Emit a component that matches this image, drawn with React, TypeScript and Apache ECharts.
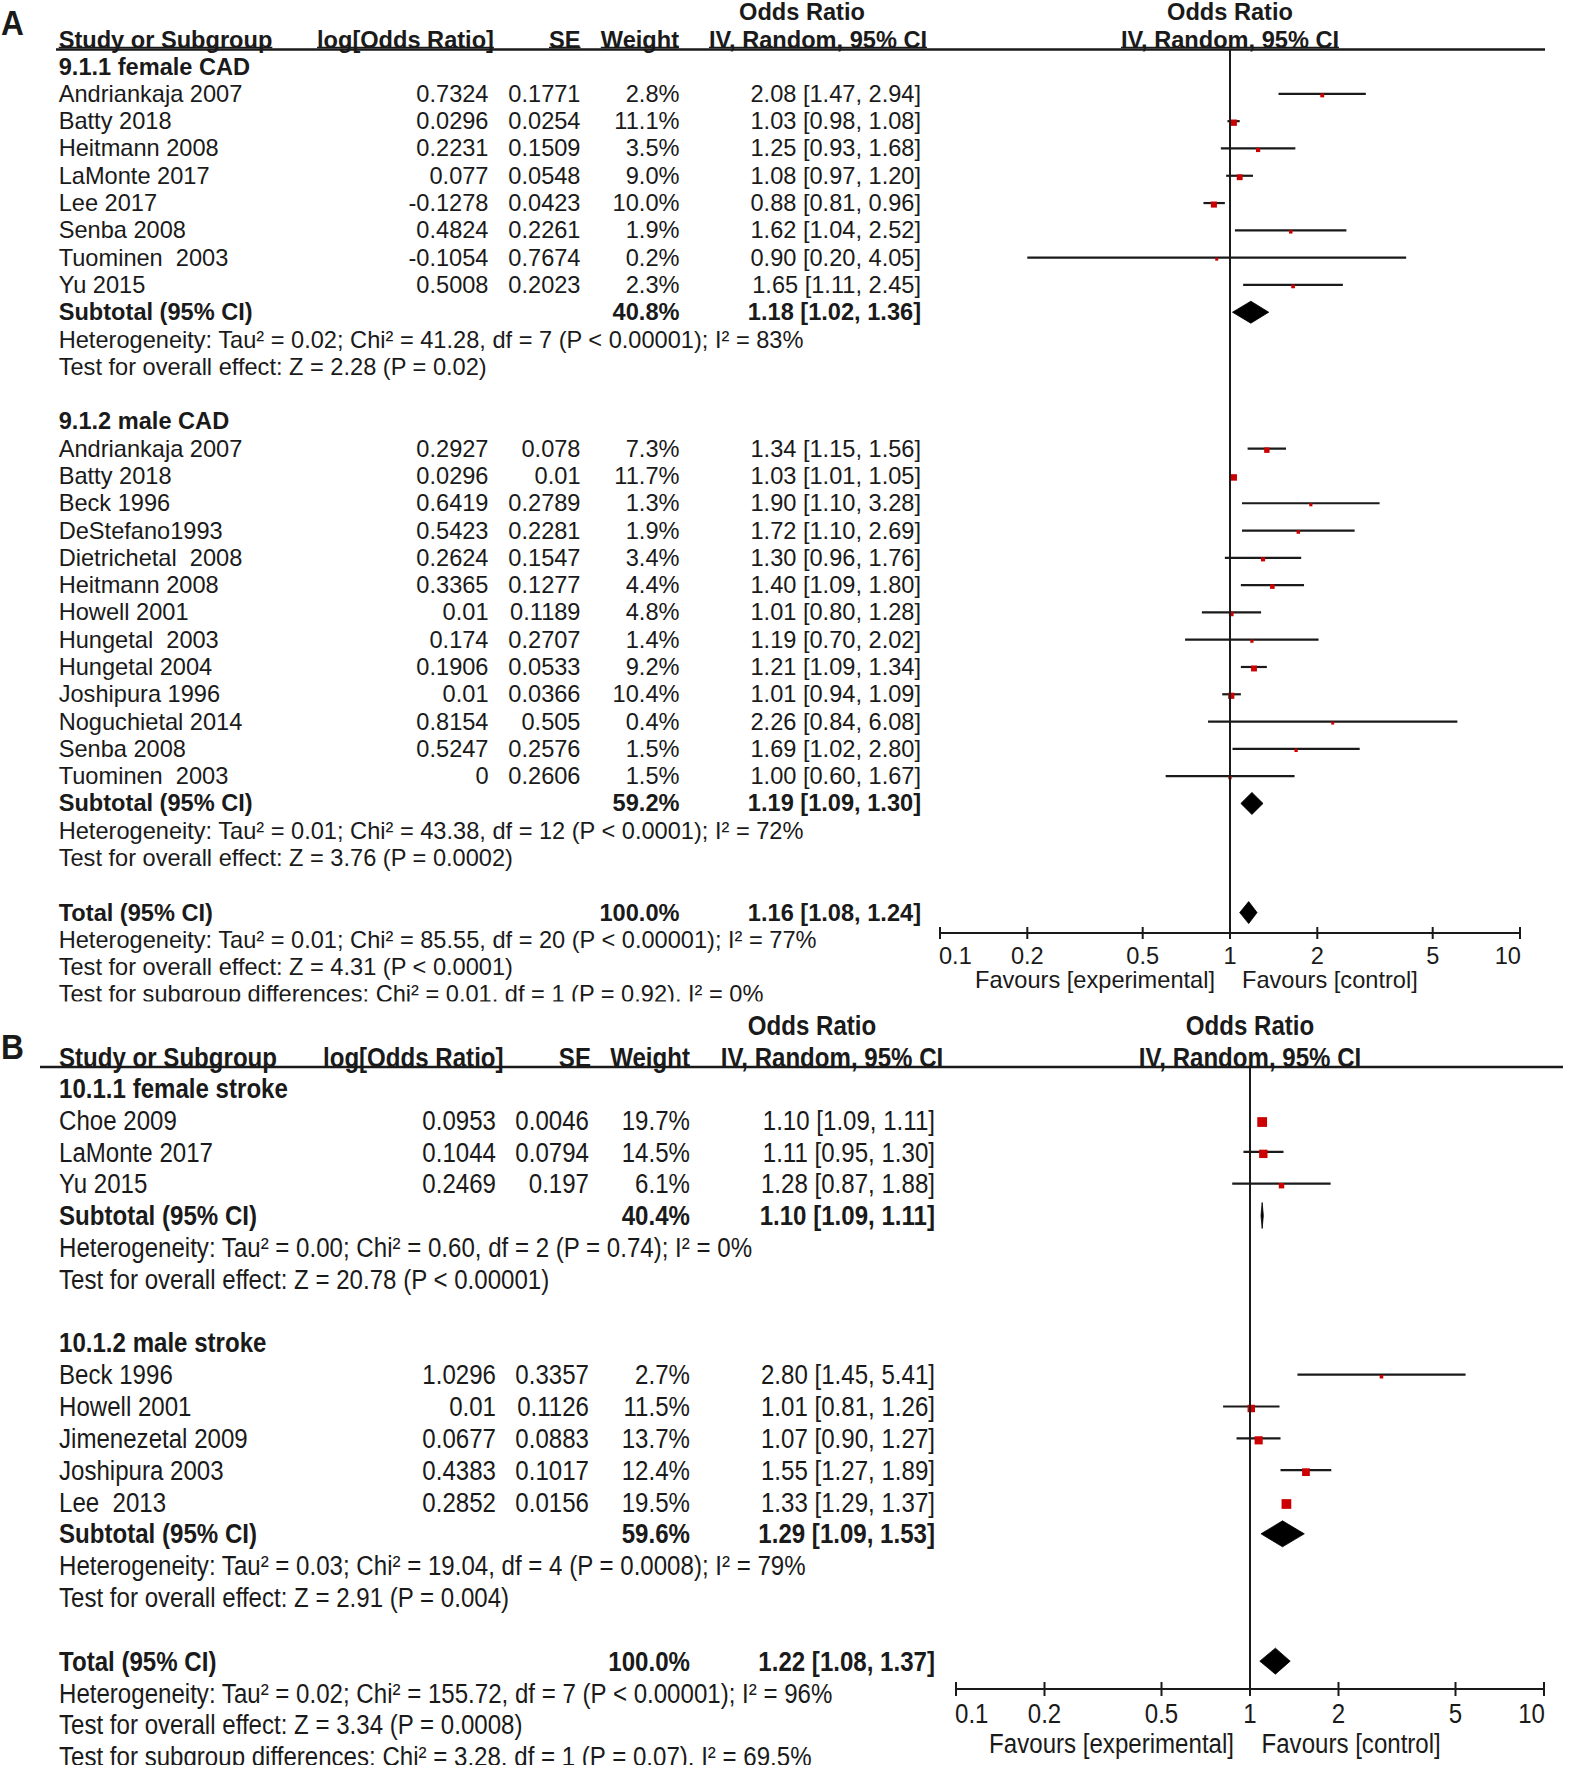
import React, { useEffect, useRef } from "react";
import * as echarts from "echarts";

const W = 1569;
const H = 1772;
const FONT = '"Liberation Sans", Arial, Helvetica, sans-serif';
const INK = "#1a1a1a";
const RED = "#cc0000";

// ---------------- Panel A data (CAD) ----------------
const A1_TITLE = "9.1.1 female CAD";
const A1_STUDY = ["Andriankaja 2007", "Batty 2018", "Heitmann 2008", "LaMonte 2017", "Lee 2017", "Senba 2008", "Tuominen  2003", "Yu 2015"];
const A1_LOGOR = [0.7324, 0.0296, 0.2231, 0.077, -0.1278, 0.4824, -0.1054, 0.5008];
const A1_SE = [0.1771, 0.0254, 0.1509, 0.0548, 0.0423, 0.2261, 0.7674, 0.2023];
const A1_WEIGHT = [2.8, 11.1, 3.5, 9.0, 10.0, 1.9, 0.2, 2.3];
const A1_OR = [2.08, 1.03, 1.25, 1.08, 0.88, 1.62, 0.9, 1.65];
const A1_LO = [1.47, 0.98, 0.93, 0.97, 0.81, 1.04, 0.2, 1.11];
const A1_HI = [2.94, 1.08, 1.68, 1.2, 0.96, 2.52, 4.05, 2.45];
const A1_SUB = [40.8, 1.18, 1.02, 1.36];
const A1_STATS = [
  "Heterogeneity: Tau² = 0.02; Chi² = 41.28, df = 7 (P < 0.00001); I² = 83%",
  "Test for overall effect: Z = 2.28 (P = 0.02)",
];

const A2_TITLE = "9.1.2 male CAD";
const A2_STUDY = ["Andriankaja 2007", "Batty 2018", "Beck 1996", "DeStefano1993", "Dietrichetal  2008", "Heitmann 2008", "Howell 2001", "Hungetal  2003", "Hungetal 2004", "Joshipura 1996", "Noguchietal 2014", "Senba 2008", "Tuominen  2003"];
const A2_LOGOR = [0.2927, 0.0296, 0.6419, 0.5423, 0.2624, 0.3365, 0.01, 0.174, 0.1906, 0.01, 0.8154, 0.5247, 0];
const A2_SE = [0.078, 0.01, 0.2789, 0.2281, 0.1547, 0.1277, 0.1189, 0.2707, 0.0533, 0.0366, 0.505, 0.2576, 0.2606];
const A2_WEIGHT = [7.3, 11.7, 1.3, 1.9, 3.4, 4.4, 4.8, 1.4, 9.2, 10.4, 0.4, 1.5, 1.5];
const A2_OR = [1.34, 1.03, 1.9, 1.72, 1.3, 1.4, 1.01, 1.19, 1.21, 1.01, 2.26, 1.69, 1.0];
const A2_LO = [1.15, 1.01, 1.1, 1.1, 0.96, 1.09, 0.8, 0.7, 1.09, 0.94, 0.84, 1.02, 0.6];
const A2_HI = [1.56, 1.05, 3.28, 2.69, 1.76, 1.8, 1.28, 2.02, 1.34, 1.09, 6.08, 2.8, 1.67];
const A2_SUB = [59.2, 1.19, 1.09, 1.3];
const A2_STATS = [
  "Heterogeneity: Tau² = 0.01; Chi² = 43.38, df = 12 (P < 0.0001); I² = 72%",
  "Test for overall effect: Z = 3.76 (P = 0.0002)",
];

const A_TOTAL = [100.0, 1.16, 1.08, 1.24];
const A_TOTAL_STATS = [
  "Heterogeneity: Tau² = 0.01; Chi² = 85.55, df = 20 (P < 0.00001); I² = 77%",
  "Test for overall effect: Z = 4.31 (P < 0.0001)",
  "Test for subgroup differences: Chi² = 0.01, df = 1 (P = 0.92), I² = 0%",
];

// ---------------- Panel B data (stroke) ----------------
const B1_TITLE = "10.1.1 female stroke";
const B1_STUDY = ["Choe 2009", "LaMonte 2017", "Yu 2015"];
const B1_LOGOR = [0.0953, 0.1044, 0.2469];
const B1_SE = [0.0046, 0.0794, 0.197];
const B1_WEIGHT = [19.7, 14.5, 6.1];
const B1_OR = [1.1, 1.11, 1.28];
const B1_LO = [1.09, 0.95, 0.87];
const B1_HI = [1.11, 1.3, 1.88];
const B1_SUB = [40.4, 1.1, 1.09, 1.11];
const B1_STATS = [
  "Heterogeneity: Tau² = 0.00; Chi² = 0.60, df = 2 (P = 0.74); I² = 0%",
  "Test for overall effect: Z = 20.78 (P < 0.00001)",
];

const B2_TITLE = "10.1.2 male stroke";
const B2_STUDY = ["Beck 1996", "Howell 2001", "Jimenezetal 2009", "Joshipura 2003", "Lee  2013"];
const B2_LOGOR = [1.0296, 0.01, 0.0677, 0.4383, 0.2852];
const B2_SE = [0.3357, 0.1126, 0.0883, 0.1017, 0.0156];
const B2_WEIGHT = [2.7, 11.5, 13.7, 12.4, 19.5];
const B2_OR = [2.8, 1.01, 1.07, 1.55, 1.33];
const B2_LO = [1.45, 0.81, 0.9, 1.27, 1.29];
const B2_HI = [5.41, 1.26, 1.27, 1.89, 1.37];
const B2_SUB = [59.6, 1.29, 1.09, 1.53];
const B2_STATS = [
  "Heterogeneity: Tau² = 0.03; Chi² = 19.04, df = 4 (P = 0.0008); I² = 79%",
  "Test for overall effect: Z = 2.91 (P = 0.004)",
];

const B_TOTAL = [100.0, 1.22, 1.08, 1.37];
const B_TOTAL_STATS = [
  "Heterogeneity: Tau² = 0.02; Chi² = 155.72, df = 7 (P < 0.00001); I² = 96%",
  "Test for overall effect: Z = 3.34 (P = 0.0008)",
  "Test for subgroup differences: Chi² = 3.28, df = 1 (P = 0.07), I² = 69.5%",
];

// ---------------- Shared labels ----------------
const TICK_VALUES = [0.1, 0.2, 0.5, 1, 2, 5, 10];
const TICK_LABELS = ["0.1", "0.2", "0.5", "1", "2", "5", "10"];
const FAV_LEFT = "Favours [experimental]";
const FAV_RIGHT = "Favours [control]";
const HDR_STUDY = "Study or Subgroup";
const HDR_LOG = "log[Odds Ratio]";
const HDR_SE = "SE";
const HDR_WEIGHT = "Weight";
const HDR_OR = "Odds Ratio";
const HDR_METHOD = "IV, Random, 95% CI";
const SUBTOTAL_LABEL = "Subtotal (95% CI)";
const TOTAL_LABEL = "Total (95% CI)";

// ---------------- Layout ----------------
const LAYOUT_A = {
  y0: 66.6, pitch: 27.29, font: 23.6, sx: 1,
  colName: 58.7, colLog: 488.5, colSE: 580.5, colW: 679.5, colCI: 921,
  hdr1Y: 12.4, hdr2Y: 39.5, ulOff: 8, ruleY: 49.5, ruleX1: 56, ruleX2: 1545,
  hdrLog: 317, hdrSE: 580.5, hdrW: 679, hdrCI: 818, hdrOR: 802,
  letter: "A", letterX: 1, letterY: 22.5,
  textTop: 0, textBottom: 1010,
  fLeft: 940, fRight: 1520, axisY: 933, tickLabelY: 956, favY: 980, favGapL: 15, favGapR: 12, tickLen: 6,
  sqK: 1.45, sqB: 1.5, sqMin: 3, sqOff: 1.5, diaH: 22, ciW: 2.2,
  clipTop: 1001.5, clipBottom: 1010,
};

const LAYOUT_B = {
  y0: 1088.2, pitch: 31.83, font: 28, sx: 0.86,
  colName: 59, colLog: 496, colSE: 589, colW: 690, colCI: 935,
  hdr1Y: 1025, hdr2Y: 1057, ulOff: 10, ruleY: 1067, ruleX1: 40, ruleX2: 1563,
  hdrLog: 323, hdrSE: 591, hdrW: 690, hdrCI: 832, hdrOR: 812,
  letter: "B", letterX: 1, letterY: 1046,
  textTop: 1005, textBottom: 1772,
  fLeft: 956, fRight: 1544, axisY: 1689, tickLabelY: 1713, favY: 1743, favGapL: 16, favGapR: 11.5, tickLen: 7,
  sqK: 2.2, sqB: 0, sqMin: 3, sqOff: 2, diaH: 26, ciW: 2.2,
  clipTop: 1765, clipBottom: 1772,
};

type Lay = typeof LAYOUT_A;
type TextItem = { x: number; row: number; text: string; align: string; bold?: boolean; underline?: boolean; size?: number; sx?: number };

let measureCtx: any = null;
function measure(text: string, size: number, bold: boolean) {
  if (!measureCtx) measureCtx = document.createElement("canvas").getContext("2d");
  measureCtx.font = `${bold ? "bold " : ""}${size}px ${FONT}`;
  return measureCtx.measureText(text).width;
}

function fmtCI(or: number, lo: number, hi: number) {
  return `${or.toFixed(2)} [${lo.toFixed(2)}, ${hi.toFixed(2)}]`;
}

function buildPanel(groups: any[], total: number[], totalStats: string[], L: Lay) {
  const rowOf = (px: number) => (px - L.y0) / L.pitch;
  const texts: TextItem[] = [];
  const studies: number[][] = [];
  const diamonds: number[][] = [];

  // headers
  texts.push({ x: L.letterX, row: rowOf(L.letterY), text: L.letter, align: "left", bold: true, size: 36, sx: 0.88 });
  texts.push({ x: L.hdrOR, row: rowOf(L.hdr1Y), text: HDR_OR, align: "center", bold: true });
  texts.push({ x: (L.fLeft + L.fRight) / 2, row: rowOf(L.hdr1Y), text: HDR_OR, align: "center", bold: true });
  const r2 = rowOf(L.hdr2Y);
  texts.push({ x: L.colName, row: r2, text: HDR_STUDY, align: "left", bold: true, underline: true });
  texts.push({ x: L.hdrLog, row: r2, text: HDR_LOG, align: "left", bold: true, underline: true });
  texts.push({ x: L.hdrSE, row: r2, text: HDR_SE, align: "right", bold: true, underline: true });
  texts.push({ x: L.hdrW, row: r2, text: HDR_WEIGHT, align: "right", bold: true, underline: true });
  texts.push({ x: L.hdrCI, row: r2, text: HDR_METHOD, align: "center", bold: true, underline: true });
  texts.push({ x: (L.fLeft + L.fRight) / 2, row: r2, text: HDR_METHOD, align: "center", bold: true, underline: true });

  let r = 0;
  groups.forEach((g) => {
    texts.push({ x: L.colName, row: r, text: g.title, align: "left", bold: true });
    r++;
    g.study.forEach((name: string, i: number) => {
      texts.push({ x: L.colName, row: r, text: name, align: "left" });
      texts.push({ x: L.colLog, row: r, text: String(g.logor[i]), align: "right" });
      texts.push({ x: L.colSE, row: r, text: String(g.se[i]), align: "right" });
      texts.push({ x: L.colW, row: r, text: g.weight[i].toFixed(1) + "%", align: "right" });
      texts.push({ x: L.colCI, row: r, text: fmtCI(g.or[i], g.lo[i], g.hi[i]), align: "right" });
      studies.push([g.or[i], r, g.lo[i], g.hi[i], g.weight[i]]);
      r++;
    });
    texts.push({ x: L.colName, row: r, text: SUBTOTAL_LABEL, align: "left", bold: true });
    texts.push({ x: L.colW, row: r, text: g.sub[0].toFixed(1) + "%", align: "right", bold: true });
    texts.push({ x: L.colCI, row: r, text: fmtCI(g.sub[1], g.sub[2], g.sub[3]), align: "right", bold: true });
    diamonds.push([g.sub[1], r, g.sub[2], g.sub[3]]);
    r++;
    g.stats.forEach((s: string) => {
      texts.push({ x: L.colName, row: r, text: s, align: "left" });
      r++;
    });
    r++;
  });
  texts.push({ x: L.colName, row: r, text: TOTAL_LABEL, align: "left", bold: true });
  texts.push({ x: L.colW, row: r, text: total[0].toFixed(1) + "%", align: "right", bold: true });
  texts.push({ x: L.colCI, row: r, text: fmtCI(total[1], total[2], total[3]), align: "right", bold: true });
  diamonds.push([total[1], r, total[2], total[3]]);
  r++;
  totalStats.forEach((s) => {
    texts.push({ x: L.colName, row: r, text: s, align: "left" });
    r++;
  });
  return { texts, studies, diamonds, rowOf };
}

function panelParts(groups: any[], total: number[], totalStats: string[], L: Lay, base: number) {
  const { texts, studies, diamonds, rowOf } = buildPanel(groups, total, totalStats, L);
  const tIdx = base;
  const fIdx = base + 1;
  const grids = [
    { left: 0, right: 0, top: L.textTop, bottom: H - L.textBottom, outerBoundsMode: "none", containLabel: false },
    { left: L.fLeft, right: W - L.fRight, top: L.ruleY, bottom: H - L.axisY, outerBoundsMode: "none", containLabel: false },
  ];
  const xAxes = [
    { gridIndex: tIdx, type: "value", min: 0, max: W, show: false },
    {
      gridIndex: fIdx, type: "log", logBase: 10, min: 0.1, max: 10,
      axisLine: { show: true, onZero: false, lineStyle: { color: INK, width: 2 } },
      axisTick: { show: false }, axisLabel: { show: false }, splitLine: { show: false },
    },
  ];
  const yAxes = [
    { gridIndex: tIdx, type: "value", inverse: true, min: rowOf(L.textTop), max: rowOf(L.textBottom), show: false },
    { gridIndex: fIdx, type: "value", inverse: true, min: rowOf(L.ruleY), max: rowOf(L.axisY), show: false },
  ];
  const axisRow = rowOf(L.axisY);
  const tickRow = rowOf(L.tickLabelY);
  const favRow = rowOf(L.favY);
  const textStyle = (t: TextItem) => ({
    text: t.text, x: 0, y: 0, align: t.align, verticalAlign: "middle",
    fontSize: t.size ?? L.font, fontFamily: FONT, fontWeight: t.bold ? "bold" : "normal", fill: INK,
  });

  const series: any[] = [
    {
      type: "custom", name: "text" + base, xAxisIndex: tIdx, yAxisIndex: tIdx, silent: true, clip: false,
      data: texts.map((t) => [t.x, t.row]),
      encode: { x: 0, y: 1 },
      renderItem: (params: any, api: any) => {
        const t = texts[params.dataIndex];
        const p = api.coord([t.x, t.row]);
        const sx = t.sx ?? L.sx;
        const size = t.size ?? L.font;
        const children: any[] = [
          { type: "text", x: p[0], y: p[1], scaleX: sx, scaleY: 1, style: textStyle(t) },
        ];
        if (t.underline) {
          const w = measure(t.text, size, !!t.bold) * sx;
          const x1 = t.align === "left" ? p[0] : t.align === "right" ? p[0] - w : p[0] - w / 2;
          const yy = p[1] + L.ulOff;
          children.push({ type: "line", shape: { x1, y1: yy, x2: x1 + w, y2: yy }, style: { stroke: INK, lineWidth: 1.6 } });
        }
        return { type: "group", children };
      },
    },
    {
      type: "custom", name: "rule" + base, xAxisIndex: tIdx, yAxisIndex: tIdx, silent: true, clip: false,
      data: [[L.ruleX1, rowOf(L.ruleY), L.ruleX2]],
      encode: { x: [0, 2], y: 1 },
      renderItem: (params: any, api: any) => {
        const a = api.coord([api.value(0), api.value(1)]);
        const b = api.coord([api.value(2), api.value(1)]);
        return { type: "line", shape: { x1: a[0], y1: a[1], x2: b[0], y2: b[1] }, style: { stroke: INK, lineWidth: 2.4 } };
      },
    },
    {
      type: "line", name: "null" + base, xAxisIndex: fIdx, yAxisIndex: fIdx, silent: true,
      data: [[1, rowOf(L.ruleY)], [1, axisRow]],
      showSymbol: false, symbol: "none", lineStyle: { color: INK, width: 2 },
    },
    {
      type: "custom", name: "studies" + base, xAxisIndex: fIdx, yAxisIndex: fIdx, silent: true, clip: false,
      data: studies,
      encode: { x: [0, 2, 3], y: 1 },
      renderItem: (params: any, api: any) => {
        const or = api.value(0), row = api.value(1), lo = api.value(2), hi = api.value(3), w = api.value(4);
        const pl = api.coord([lo, row]);
        const ph = api.coord([hi, row]);
        const pc = api.coord([or, row]);
        const s = Math.max(L.sqMin, L.sqB + L.sqK * Math.sqrt(w));
        return {
          type: "group",
          children: [
            { type: "line", shape: { x1: pl[0], y1: pl[1], x2: ph[0], y2: ph[1] }, style: { stroke: INK, lineWidth: L.ciW } },
            { type: "rect", shape: { x: pc[0] - s / 2, y: pc[1] - s / 2 + L.sqOff, width: s, height: s }, style: { fill: RED } },
          ],
        };
      },
    },
    {
      type: "custom", name: "diamonds" + base, xAxisIndex: fIdx, yAxisIndex: fIdx, silent: true, clip: false,
      data: diamonds,
      encode: { x: [0, 2, 3], y: 1 },
      renderItem: (params: any, api: any) => {
        const or = api.value(0), row = api.value(1), lo = api.value(2), hi = api.value(3);
        const pl = api.coord([lo, row]);
        const ph = api.coord([hi, row]);
        const pc = api.coord([or, row]);
        const h = L.diaH / 2;
        return {
          type: "polygon",
          shape: { points: [[pl[0], pc[1]], [pc[0], pc[1] - h], [ph[0], pc[1]], [pc[0], pc[1] + h]] },
          style: { fill: "#000", stroke: "#000", lineWidth: 0.8 },
        };
      },
    },
    {
      type: "custom", name: "ticks" + base, xAxisIndex: fIdx, yAxisIndex: fIdx, silent: true, clip: false,
      data: TICK_VALUES.map((v) => [v, axisRow]),
      encode: { x: 0, y: 1 },
      renderItem: (params: any, api: any) => {
        const i = params.dataIndex;
        const v = api.value(0);
        const p = api.coord([v, axisRow]);
        const q = api.coord([v, tickRow]);
        const align = i === 0 ? "left" : i === TICK_VALUES.length - 1 ? "right" : "center";
        const lx = i === 0 ? q[0] - 1 : i === TICK_VALUES.length - 1 ? q[0] + 1 : q[0];
        return {
          type: "group",
          children: [
            { type: "line", shape: { x1: p[0], y1: p[1] - L.tickLen, x2: p[0], y2: p[1] + L.tickLen }, style: { stroke: INK, lineWidth: 2 } },
            {
              type: "text", x: lx, y: q[1], scaleX: L.sx, scaleY: 1,
              style: { text: TICK_LABELS[i], x: 0, y: 0, align, verticalAlign: "middle", fontSize: L.font, fontFamily: FONT, fill: INK },
            },
          ],
        };
      },
    },
    {
      type: "custom", name: "favours" + base, xAxisIndex: fIdx, yAxisIndex: fIdx, silent: true, clip: false,
      data: [[1, favRow]],
      encode: { x: 0, y: 1 },
      renderItem: (params: any, api: any) => {
        const p = api.coord([api.value(0), api.value(1)]);
        return {
          type: "group",
          children: [
            {
              type: "text", x: p[0] - L.favGapL, y: p[1], scaleX: L.sx, scaleY: 1,
              style: { text: FAV_LEFT, x: 0, y: 0, align: "right", verticalAlign: "middle", fontSize: L.font, fontFamily: FONT, fill: INK },
            },
            {
              type: "text", x: p[0] + L.favGapR, y: p[1], scaleX: L.sx, scaleY: 1,
              style: { text: FAV_RIGHT, x: 0, y: 0, align: "left", verticalAlign: "middle", fontSize: L.font, fontFamily: FONT, fill: INK },
            },
          ],
        };
      },
    },
  ];
  // the source image crops the last text line of each panel near its baseline
  const clip = {
    type: "rect", z: 100, silent: true,
    shape: { x: 0, y: L.clipTop, width: 940, height: L.clipBottom - L.clipTop },
    style: { fill: "#ffffff" },
  };
  return { grids, xAxes, yAxes, series, clip };
}

export default function App() {
  const ref = useRef<HTMLDivElement>(null);
  useEffect(() => {
    document.body.style.margin = "0";
    document.body.style.background = "#fff";
    if (!ref.current) return;
    const chart = echarts.init(ref.current, undefined, { renderer: "svg", width: W, height: H });

    const groupsA = [
      { title: A1_TITLE, study: A1_STUDY, logor: A1_LOGOR, se: A1_SE, weight: A1_WEIGHT, or: A1_OR, lo: A1_LO, hi: A1_HI, sub: A1_SUB, stats: A1_STATS },
      { title: A2_TITLE, study: A2_STUDY, logor: A2_LOGOR, se: A2_SE, weight: A2_WEIGHT, or: A2_OR, lo: A2_LO, hi: A2_HI, sub: A2_SUB, stats: A2_STATS },
    ];
    const groupsB = [
      { title: B1_TITLE, study: B1_STUDY, logor: B1_LOGOR, se: B1_SE, weight: B1_WEIGHT, or: B1_OR, lo: B1_LO, hi: B1_HI, sub: B1_SUB, stats: B1_STATS },
      { title: B2_TITLE, study: B2_STUDY, logor: B2_LOGOR, se: B2_SE, weight: B2_WEIGHT, or: B2_OR, lo: B2_LO, hi: B2_HI, sub: B2_SUB, stats: B2_STATS },
    ];
    const pa = panelParts(groupsA, A_TOTAL, A_TOTAL_STATS, LAYOUT_A, 0);
    const pb = panelParts(groupsB, B_TOTAL, B_TOTAL_STATS, LAYOUT_B, 2);

    chart.setOption({
      animation: false,
      backgroundColor: "#ffffff",
      grid: [...pa.grids, ...pb.grids],
      xAxis: [...pa.xAxes, ...pb.xAxes],
      yAxis: [...pa.yAxes, ...pb.yAxes],
      series: [...pa.series, ...pb.series],
      graphic: [pa.clip, pb.clip],
    });
    return () => chart.dispose();
  }, []);
  return <div ref={ref} style={{ width: W, height: H, background: "#fff" }} />;
}
